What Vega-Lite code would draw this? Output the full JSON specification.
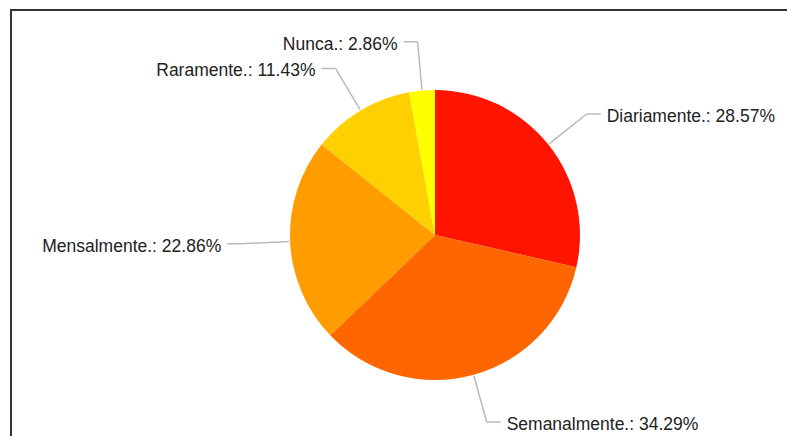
{
  "$schema": "https://vega.github.io/schema/vega-lite/v6.json",
  "width": 848,
  "height": 450,
  "autosize": {"type": "none"},
  "padding": {"left": 11, "top": 10, "right": 0, "bottom": 0},
  "background": "white",
  "config": {"view": {"stroke": "#333333", "strokeWidth": 2}},
  "data": {
    "values": [
      {"categoria": "Diariamente", "percentual": 28.57},
      {"categoria": "Semanalmente", "percentual": 34.29},
      {"categoria": "Mensalmente", "percentual": 22.86},
      {"categoria": "Raramente", "percentual": 11.43},
      {"categoria": "Nunca", "percentual": 2.86}
    ]
  },
  "transform": [
    {"window": [{"op": "row_number", "as": "ordem"}]},
    {"joinaggregate": [{"op": "sum", "field": "percentual", "as": "total"}]},
    {"window": [{"op": "sum", "field": "percentual", "as": "acumulado"}], "sort": [{"field": "ordem"}], "frame": [null, 0]},
    {"calculate": "2 * PI * (datum.acumulado - datum.percentual / 2) / datum.total", "as": "angulo"},
    {"calculate": "datum.categoria + '.: ' + format(datum.percentual, '.2f') + '%'", "as": "rotulo"},
    {"calculate": "146 * sin(datum.angulo)", "as": "x0"},
    {"calculate": "-146 * cos(datum.angulo)", "as": "y0"},
    {"calculate": "194 * sin(datum.angulo)", "as": "x1"},
    {"calculate": "-194 * cos(datum.angulo)", "as": "y1"},
    {"calculate": "datum.x1 + (sin(datum.angulo) >= 0 ? 14 : -14)", "as": "x2"},
    {"calculate": "datum.x2 + (sin(datum.angulo) >= 0 ? 6 : -6)", "as": "xt"},
    {"calculate": "sin(datum.angulo) >= 0 ? 'direita' : 'esquerda'", "as": "lado"}
  ],
  "layer": [
    {
      "mark": {"type": "arc", "outerRadius": 145},
      "encoding": {
        "theta": {"field": "percentual", "type": "quantitative", "stack": true},
        "order": {"field": "ordem", "type": "quantitative"},
        "color": {
          "field": "categoria",
          "type": "nominal",
          "scale": {
            "domain": ["Diariamente", "Semanalmente", "Mensalmente", "Raramente", "Nunca"],
            "range": ["#FF1400", "#FF6600", "#FF9C00", "#FFD000", "#FFFF00"]
          },
          "legend": null
        }
      }
    },
    {
      "mark": {"type": "rule", "color": "#bbbbbb", "strokeWidth": 1.5},
      "encoding": {
        "x": {"field": "x0", "type": "quantitative", "scale": {"domain": [-424, 424], "nice": false, "zero": false}, "axis": null},
        "y": {"field": "y0", "type": "quantitative", "scale": {"domain": [-225, 225], "nice": false, "zero": false, "reverse": true}, "axis": null},
        "x2": {"field": "x1"},
        "y2": {"field": "y1"}
      }
    },
    {
      "mark": {"type": "rule", "color": "#bbbbbb", "strokeWidth": 1.5},
      "encoding": {
        "x": {"field": "x1", "type": "quantitative"},
        "x2": {"field": "x2"},
        "y": {"field": "y1", "type": "quantitative"}
      }
    },
    {
      "transform": [{"filter": "datum.lado === 'direita'"}],
      "mark": {"type": "text", "align": "left", "baseline": "middle", "font": "Liberation Sans", "fontSize": 17.5, "color": "#222222", "dy": 3},
      "encoding": {
        "x": {"field": "xt", "type": "quantitative"},
        "y": {"field": "y1", "type": "quantitative"},
        "text": {"field": "rotulo"}
      }
    },
    {
      "transform": [{"filter": "datum.lado === 'esquerda'"}],
      "mark": {"type": "text", "align": "right", "baseline": "middle", "font": "Liberation Sans", "fontSize": 17.5, "color": "#222222", "dy": 3},
      "encoding": {
        "x": {"field": "xt", "type": "quantitative"},
        "y": {"field": "y1", "type": "quantitative"},
        "text": {"field": "rotulo"}
      }
    }
  ]
}
